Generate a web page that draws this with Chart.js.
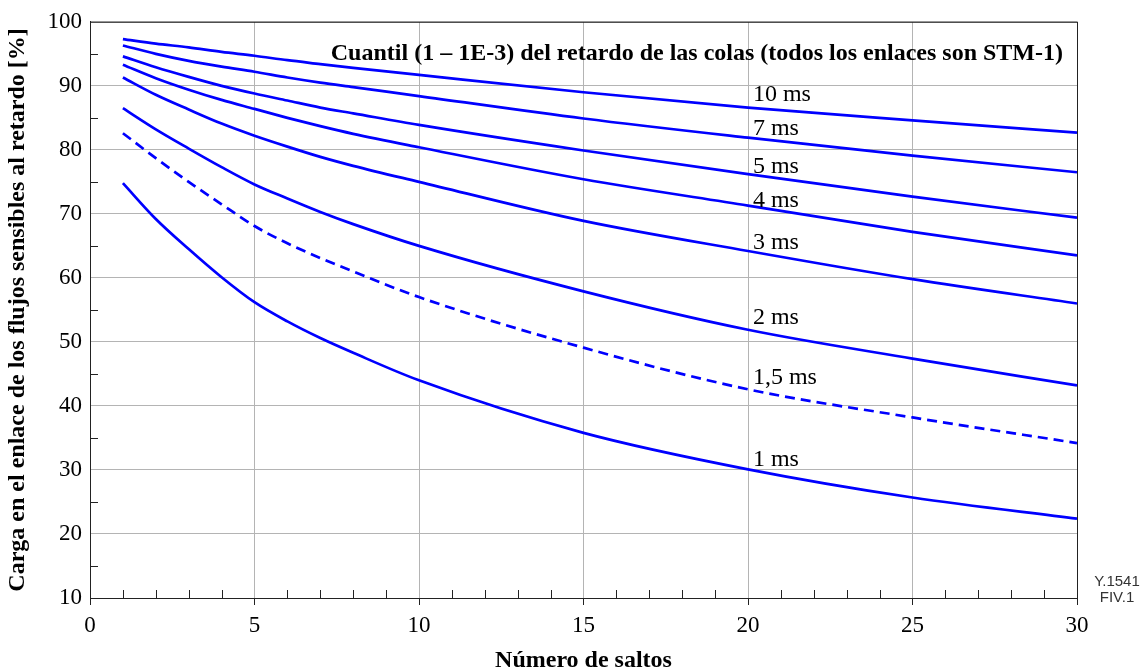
<!DOCTYPE html>
<html>
<head>
<meta charset="utf-8">
<script src="https://cdn.jsdelivr.net/npm/chart.js@4"></script>
<style>
  html, body { margin: 0; padding: 0; background: #fff; }
  #wrap { width: 1145px; height: 670px; }
</style>
</head>
<body>
<div id="wrap"><canvas id="delayChart" width="1145" height="670"></canvas></div>
<script>
// Number of hops (x) where the curves were read
const hops = [1, 2, 3, 4, 5, 6, 7, 8, 10, 15, 20, 25, 30];

// Link load [%] for each delay quantile
const load10ms = [97.3, 96.6, 96.0, 95.3, 94.7, 94.0, 93.4, 92.8, 91.7, 89.0, 86.6, 84.6, 82.7];
const load7ms  = [96.3, 95.0, 93.9, 93.0, 92.2, 91.3, 90.5, 89.8, 88.4, 84.9, 81.9, 79.1, 76.5];
const load5ms  = [94.6, 92.9, 91.4, 90.0, 88.8, 87.7, 86.6, 85.7, 83.9, 79.9, 76.2, 72.7, 69.4];
const load4ms  = [93.3, 91.2, 89.4, 87.8, 86.4, 85.0, 83.7, 82.5, 80.4, 75.4, 71.3, 67.2, 63.5];
const load3ms  = [91.3, 88.6, 86.3, 84.1, 82.2, 80.5, 78.9, 77.5, 75.0, 68.9, 64.2, 59.8, 56.0];
const load2ms  = [86.5, 83.2, 80.2, 77.3, 74.6, 72.4, 70.3, 68.4, 65.0, 57.9, 51.9, 47.4, 43.2];
const load15ms = [82.6, 78.7, 75.0, 71.5, 68.1, 65.4, 63.1, 61.0, 57.0, 49.1, 42.6, 38.2, 34.2];
const load1ms  = [74.8, 69.2, 64.5, 60.1, 56.2, 53.2, 50.6, 48.3, 44.0, 35.8, 30.1, 25.7, 22.4];

// Curve labels and their baselines (data units)
const curveNames = ['10 ms', '7 ms', '5 ms', '4 ms', '3 ms', '2 ms', '1,5 ms', '1 ms'];
const curveLabelY = [87.6, 82.3, 76.4, 71.0, 64.5, 52.8, 43.5, 30.6];
const curveLabelX = 20.15;

const xTicks = [0, 5, 10, 15, 20, 25, 30];
const yTicks = [10, 20, 30, 40, 50, 60, 70, 80, 90, 100];

const chartTitle = 'Cuantil (1 – 1E-3) del retardo de las colas (todos los enlaces son STM-1)';
const xTitle = 'Número de saltos';
const yTitle = 'Carga en el enlace de los flujos sensibles al retardo [%]';

const SERIF = '"Liberation Serif", "Times New Roman", serif';
const BLUE = 'rgb(0, 0, 255)';

function series(values, dashed) {
    return {
        data: hops.map((h, i) => ({ x: h, y: values[i] })),
        borderColor: BLUE,
        borderWidth: 2.7,
        borderDash: dashed ? [10, 6] : [],
        pointRadius: 0,
        fill: false,
        cubicInterpolationMode: 'monotone'
    };
}

// minor ticks, frame and all the extra text
const decorations = {
    id: 'decorations',
    afterDraw(chart) {
        const ctx = chart.ctx;
        const a = chart.chartArea;
        const xs = chart.scales.x;
        const ys = chart.scales.y;
        ctx.save();

        // frame
        ctx.strokeStyle = '#222';
        ctx.lineWidth = 1;
        ctx.strokeRect(a.left + 0.5, a.top + 0.5, a.right - a.left, a.bottom - a.top);

        // minor ticks, inside
        ctx.beginPath();
        for (let v = 1; v < 30; v++) {
            if (v % 5 === 0) continue;
            const px = Math.round(xs.getPixelForValue(v)) + 0.5;
            ctx.moveTo(px, a.bottom);
            ctx.lineTo(px, a.bottom - 8);
        }
        for (let v = 15; v < 100; v += 10) {
            const py = Math.round(ys.getPixelForValue(v)) + 0.5;
            ctx.moveTo(a.left, py);
            ctx.lineTo(a.left + 8, py);
        }
        ctx.stroke();

        // chart title
        ctx.fillStyle = '#000';
        ctx.font = 'bold 24px ' + SERIF;
        ctx.textAlign = 'right';
        ctx.textBaseline = 'alphabetic';
        ctx.fillText(chartTitle, a.right - 14, a.top + 38);

        // curve labels
        ctx.font = '24px ' + SERIF;
        ctx.textAlign = 'left';
        curveNames.forEach((name, i) => {
            ctx.fillText(name, xs.getPixelForValue(curveLabelX), ys.getPixelForValue(curveLabelY[i]));
        });

        // axis titles
        ctx.font = 'bold 24px ' + SERIF;
        ctx.textAlign = 'center';
        ctx.textBaseline = 'middle';
        ctx.fillText(xTitle, (a.left + a.right) / 2, 661);
        ctx.save();
        ctx.translate(18, (a.top + a.bottom) / 2);
        ctx.rotate(-Math.PI / 2);
        ctx.fillText(yTitle, 0, 0);
        ctx.restore();

        // figure reference
        ctx.font = '15px "Liberation Sans", Arial, sans-serif';
        ctx.fillStyle = '#333';
        ctx.textAlign = 'center';
        ctx.textBaseline = 'alphabetic';
        ctx.fillText('Y.1541', 1117, 586);
        ctx.fillText('FIV.1', 1117, 602);

        ctx.restore();
    }
};

const ctx = document.getElementById('delayChart').getContext('2d');
const delayChart = new Chart(ctx, {
    type: 'line',
    data: {
        datasets: [
            series(load10ms),
            series(load7ms),
            series(load5ms),
            series(load4ms),
            series(load3ms),
            series(load2ms),
            series(load15ms, true),
            series(load1ms)
        ]
    },
    options: {
        responsive: false,
        animation: false,
        devicePixelRatio: 1,
        layout: {
            padding: { left: 0, top: 19, right: 68, bottom: 0 }
        },
        scales: {
            x: {
                type: 'linear',
                min: 0,
                max: 30,
                afterFit(scale) { scale.height = 72; },
                afterBuildTicks(scale) { scale.ticks = xTicks.map(v => ({ value: v })); },
                grid: {
                    color: '#b4b4b4',
                    tickColor: '#222',
                    tickLength: 7
                },
                border: { color: '#222' },
                ticks: {
                    color: '#000',
                    padding: 7,
                    font: { family: SERIF, size: 23 },
                    maxRotation: 0
                }
            },
            y: {
                type: 'linear',
                min: 10,
                max: 100,
                afterFit(scale) { scale.width = 90; },
                afterBuildTicks(scale) { scale.ticks = yTicks.map(v => ({ value: v })); },
                grid: {
                    color: '#b4b4b4',
                    drawTicks: false
                },
                border: { color: '#222' },
                ticks: {
                    color: '#000',
                    padding: 8,
                    font: { family: SERIF, size: 23 }
                }
            }
        },
        plugins: {
            legend: { display: false },
            tooltip: { enabled: false }
        }
    },
    plugins: [decorations]
});
</script>
</body>
</html>
